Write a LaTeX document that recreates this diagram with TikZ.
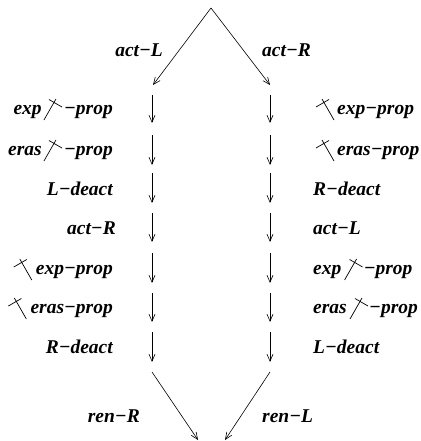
\documentclass[tikz,border=0pt]{standalone}
\usepackage{fontspec}
\setmainfont{Liberation Serif}
\usetikzlibrary{arrows.meta,calc}
\tikzset{
  flow/.style={line width=0.6pt,-{Straight Barb[length=7pt,width=6pt]}},
  lbl/.style={inner sep=0pt,font=\fontsize{19.5}{22}\selectfont\bfseries\itshape},
  crossA/.pic={\draw[line width=0.7pt] (0,0)--(12,21) (5,20.5)--(18,13);},
  crossB/.pic={\draw[line width=0.7pt] (18,0)--(6,21) (13,20.5)--(0,13);},
}
\begin{document}
\begin{tikzpicture}[x=1pt,y=1pt]
\fill[white] (0,-441) rectangle (420,0);
\useasboundingbox (0,-441) rectangle (420,0);
% top and bottom
\coordinate (apex) at (211,-8);
\coordinate (lt) at (153,-85);
\coordinate (rt) at (270,-85);
\draw[flow] (apex) -- (lt);
\draw[flow] (apex) -- (rt);
\coordinate (lb0) at (152,-372);
\coordinate (lb1) at (198,-440);
\coordinate (rb0) at (270,-372);
\coordinate (rb1) at (225,-440);
\draw[flow] (lb0) -- (lb1);
\draw[flow] (rb0) -- (rb1);
% vertical segments
\coordinate (ls1) at (152,-95);  \coordinate (le1) at (152,-123);
\coordinate (ls2) at (152,-135); \coordinate (le2) at (152,-165);
\coordinate (ls3) at (152,-173); \coordinate (le3) at (152,-203);
\coordinate (ls4) at (152,-213); \coordinate (le4) at (152,-242);
\coordinate (ls5) at (152,-253); \coordinate (le5) at (152,-283);
\coordinate (ls6) at (152,-293); \coordinate (le6) at (152,-322);
\coordinate (ls7) at (152,-332); \coordinate (le7) at (152,-362);
\coordinate (rs1) at (270,-95);  \coordinate (rf1) at (270,-123);
\coordinate (rs2) at (270,-135); \coordinate (rf2) at (270,-165);
\coordinate (rs3) at (270,-173); \coordinate (rf3) at (270,-203);
\coordinate (rs4) at (270,-213); \coordinate (rf4) at (270,-242);
\coordinate (rs5) at (270,-253); \coordinate (rf5) at (270,-283);
\coordinate (rs6) at (270,-293); \coordinate (rf6) at (270,-322);
\coordinate (rs7) at (270,-332); \coordinate (rf7) at (270,-362);
\draw[flow] (ls1) -- (le1);
\draw[flow] (ls2) -- (le2);
\draw[flow] (ls3) -- (le3);
\draw[flow] (ls4) -- (le4);
\draw[flow] (ls5) -- (le5);
\draw[flow] (ls6) -- (le6);
\draw[flow] (ls7) -- (le7);
\draw[flow] (rs1) -- (rf1);
\draw[flow] (rs2) -- (rf2);
\draw[flow] (rs3) -- (rf3);
\draw[flow] (rs4) -- (rf4);
\draw[flow] (rs5) -- (rf5);
\draw[flow] (rs6) -- (rf6);
\draw[flow] (rs7) -- (rf7);
% diagonal labels
\node[lbl,anchor=base east] (actL) at (163,-57) {act−L};
\node[lbl,anchor=base west] (actR) at (262,-57) {act−R};
\node[lbl,anchor=base east] (renR) at (140,-422) {ren−R};
\node[lbl,anchor=base west] (renL) at (262,-422) {ren−L};
% left column
\node[lbl,anchor=base east] (l1c) at (113,-114) {−prop};
\pic at ($(l1c.base west)+(-20,-6)$) {crossA};
\node[lbl,anchor=base east] (l1a) at ($(l1c.base west)+(-22,0)$) {exp};
\node[lbl,anchor=base east] (l2c) at (113,-155) {−prop};
\pic at ($(l2c.base west)+(-20,-6)$) {crossA};
\node[lbl,anchor=base east] (l2a) at ($(l2c.base west)+(-22,0)$) {eras};
\node[lbl,anchor=base east] (l3) at (113,-195) {L−deact};
\node[lbl,anchor=base east] (l4) at (116,-234) {act−R};
\node[lbl,anchor=base east] (l5) at (113,-274) {exp−prop};
\pic at ($(l5.base west)+(-22,-6)$) {crossB};
\node[lbl,anchor=base east] (l6) at (113,-313) {eras−prop};
\pic at ($(l6.base west)+(-22,-6)$) {crossB};
\node[lbl,anchor=base east] (l7) at (113,-353) {R−deact};
% right column
\node[lbl,anchor=base west] (r1) at (337,-114) {exp−prop};
\pic at ($(r1.base west)+(-21,-6)$) {crossB};
\node[lbl,anchor=base west] (r2) at (337,-155) {eras−prop};
\pic at ($(r2.base west)+(-21,-6)$) {crossB};
\node[lbl,anchor=base west] (r3) at (313,-195) {R−deact};
\node[lbl,anchor=base west] (r4) at (313,-234) {act−L};
\node[lbl,anchor=base west] (r5a) at (313,-274) {exp};
\pic at ($(r5a.base east)+(3,-6)$) {crossA};
\node[lbl,anchor=base west] (r5c) at ($(r5a.base east)+(22,0)$) {−prop};
\node[lbl,anchor=base west] (r6a) at (313,-313) {eras};
\pic at ($(r6a.base east)+(3,-6)$) {crossA};
\node[lbl,anchor=base west] (r6c) at ($(r6a.base east)+(22,0)$) {−prop};
\node[lbl,anchor=base west] (r7) at (313,-353) {L−deact};
\end{tikzpicture}
\end{document}
